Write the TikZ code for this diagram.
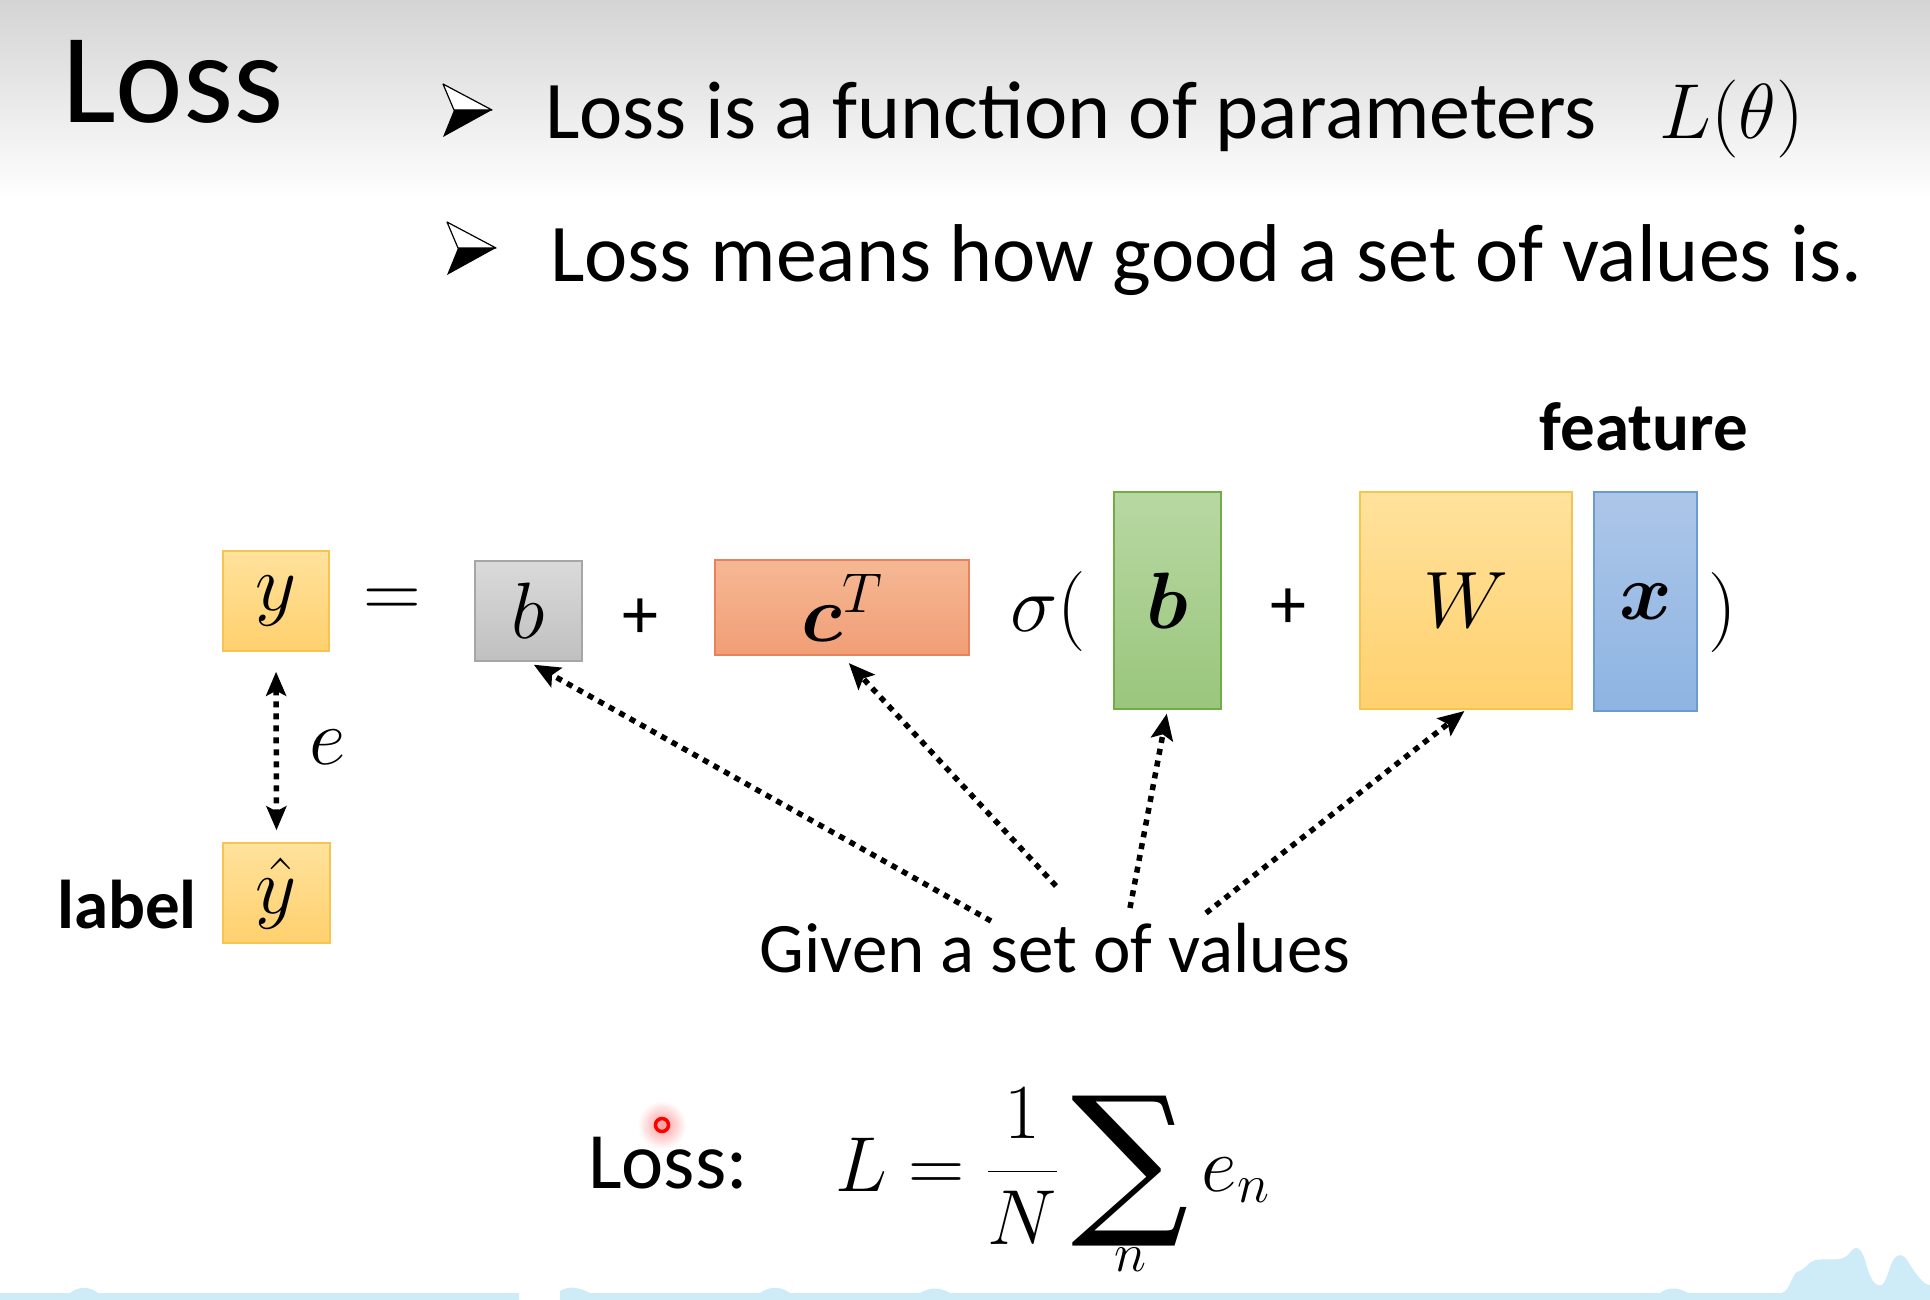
\RequirePackage{fix-cm}
\documentclass[tikz,border=0pt]{standalone}
\usepackage[no-math]{fontspec}
\setmainfont{Carlito}
\newfontfamily\sumfont{DejaVu Serif}
\usepackage{bm}
\usepackage{graphicx}
\usetikzlibrary{arrows.meta}
\definecolor{hdr}{RGB}{212,212,212}
\definecolor{strip}{RGB}{206,235,248}
\definecolor{yelT}{RGB}{255,226,156}
\definecolor{yelB}{RGB}{255,208,110}
\definecolor{yelD}{RGB}{246,196,80}
\definecolor{gryT}{RGB}{218,218,218}
\definecolor{gryB}{RGB}{192,192,192}
\definecolor{gryD}{RGB}{166,166,166}
\definecolor{orT}{RGB}{245,184,148}
\definecolor{orB}{RGB}{241,158,118}
\definecolor{orD}{RGB}{232,130,92}
\definecolor{grT}{RGB}{184,216,163}
\definecolor{grB}{RGB}{154,198,124}
\definecolor{grD}{RGB}{112,173,71}
\definecolor{blT}{RGB}{172,198,232}
\definecolor{blB}{RGB}{142,180,227}
\definecolor{blD}{RGB}{108,155,210}
\newcommand{\fs}[1]{\fontsize{#1}{#1}\selectfont}
\newcommand{\bigsum}{\mathop{\vcenter{\hbox{\resizebox*{!}{150pt}{\sumfont\fs{100}∑}}}}\limits}
\tikzset{
  mbox/.style={draw, line width=1.5pt, inner sep=0pt, font=\fs{80}},
  ybx/.style={mbox, top color=yelT, bottom color=yelB, draw=yelD},
  gbx/.style={mbox, top color=gryT, bottom color=gryB, draw=gryD},
  obx/.style={mbox, top color=orT, bottom color=orB, draw=orD},
  grbx/.style={mbox, top color=grT, bottom color=grB, draw=grD},
  bbx/.style={mbox, top color=blT, bottom color=blB, draw=blD},
  txt/.style={inner sep=0pt, anchor=base west},
  dotarrow/.style={line width=5.5pt, dash pattern=on 6pt off 6pt,
    -{Stealth[length=26pt,width=22pt,inset=5pt]}},
  bul/.pic={
    \filldraw[fill=white, draw=black, line width=1.2pt, line join=round] (0,0) -- (49,26) -- (11,26) -- cycle;
    \fill[black] (11,26) -- (49,26) -- (0,53) -- cycle;
  }
}
\begin{document}
\begin{tikzpicture}[x=1pt,y=-1pt]
\useasboundingbox (0,0) rectangle (1930,1300);
\fill[white] (0,0) rectangle (1930,1300);
\shade[top color=hdr, bottom color=white] (0,0) rectangle (1930,200);

% header
\node[txt, font=\fs{128}] (title) at (62,123) {Loss};
\pic at (443,84) {bul};
\node[txt, font=\fs{82}] (t1) at (545,139) {Loss is a function of parameters};
\node[txt, font=\fs{78}] (th) at (1659,139) {$L(\theta)$};
\pic at (447,222) {bul};
\node[txt, font=\fs{82}] (t2) at (550,281) {Loss means how good a set of values is.};

% equation boxes
\node[ybx, minimum width=106pt, minimum height=100pt] (y) at (276,601) {$y$};
\node[inner sep=0pt, font=\fs{80}] (eq) at (392,603) {$=$};
\node[gbx, minimum width=107pt, minimum height=100pt] (b0) at (528.5,611) {$b$};
\node[inner sep=0pt, font=\fs{72}] (p1) at (640,619) {+};
\node[obx, minimum width=254pt, minimum height=95pt] (c) at (842,607.5) {$\bm{c}^{T}$};
\node[inner sep=0pt, font=\fs{80}] (sig) at (1048,611) {$\sigma($};
\node[grbx, minimum width=107pt, minimum height=217pt] (b1) at (1167.5,600.5) {$\bm{b}$};
\node[inner sep=0pt, font=\fs{72}] (p2) at (1288,609) {+};
\node[ybx, minimum width=212pt, minimum height=217pt] (W) at (1466,600.5) {$W$};
\node[bbx, minimum width=103pt, minimum height=219pt] (x) at (1645.5,601.5) {$\bm{x}$};
\node[inner sep=0pt, font=\fs{80}] (rp) at (1723,612) {$)$};
\node[inner sep=0pt, font=\bfseries\fs{69}] (feat) at (1644,427) {feature};

% label
\node[ybx, minimum width=107pt, minimum height=100pt] (yh) at (276.5,893) {$\hat{y}$};
\node[inner sep=0pt, font=\bfseries\fs{69}] (lab) at (127,905) {label};
\draw[line width=5.5pt, dash pattern=on 6pt off 6pt,
  {Stealth[length=24pt,width=20pt,inset=5pt]}-{Stealth[length=24pt,width=20pt,inset=5pt]},
  shorten <=20pt, shorten >=12pt] (y.south) -- (yh.north);
\node[inner sep=0pt, font=\fs{80}] (e) at (328,747) {$e$};

% given
\node[inner sep=0pt, font=\fs{71}] (given) at (1055,948) {Given a set of values};
\coordinate (s1) at (991,921);
\coordinate (s2) at (1056,886);
\coordinate (s3) at (1130,908);
\coordinate (s4) at (1206,913);
\draw[dotarrow, shorten >=6pt] (s1) -- (b0.south);
\draw[dotarrow, shorten >=10pt] (s2) -- (c.south);
\draw[dotarrow, shorten >=4pt] (s3) -- (b1.south);
\draw[dotarrow, shorten >=2pt] (s4) -- (W.south);

% loss formula
\node[txt, font=\fs{80}] (loss) at (588,1188) {Loss:};
\node[txt, font=\fs{78}] (form) at (835,1191)
  {$\displaystyle L=\frac{1}{N}\bigsum_{\raisebox{-16pt}{$\scriptstyle n$}} e_n$};

% laser pointer
\shade[inner color=red!50, outer color=white, opacity=0.8] (662,1125) circle (24);
\draw[red, line width=3.5pt] (662,1125) circle (6.5);

% bottom strip
\fill[strip] (0,1300) -- (0,1293) -- (70,1293) .. controls (80,1286) and (88,1286) .. (98,1293)
  -- (519,1293) -- (519,1300) -- cycle;
\fill[strip] (560,1300) -- (560,1291) .. controls (570,1285) and (580,1288) .. (590,1293)
  -- (760,1293) .. controls (770,1286) and (780,1286) .. (790,1293)
  -- (920,1293) .. controls (930,1287) and (940,1287) .. (950,1293)
  -- (1660,1293) .. controls (1668,1287) and (1678,1287) .. (1688,1293)
  -- (1782,1293) .. controls (1790,1290) and (1792,1275) .. (1797,1272)
  .. controls (1805,1270) and (1808,1262) .. (1815,1260)
  .. controls (1830,1258) and (1840,1262) .. (1848,1255)
  .. controls (1855,1245) and (1860,1245) .. (1865,1260)
  .. controls (1870,1280) and (1875,1287) .. (1882,1285)
  .. controls (1888,1280) and (1890,1260) .. (1897,1256)
  .. controls (1903,1253) and (1906,1258) .. (1910,1265)
  .. controls (1920,1280) and (1925,1285) .. (1930,1285)
  -- (1930,1300) -- cycle;
\end{tikzpicture}
\end{document}
